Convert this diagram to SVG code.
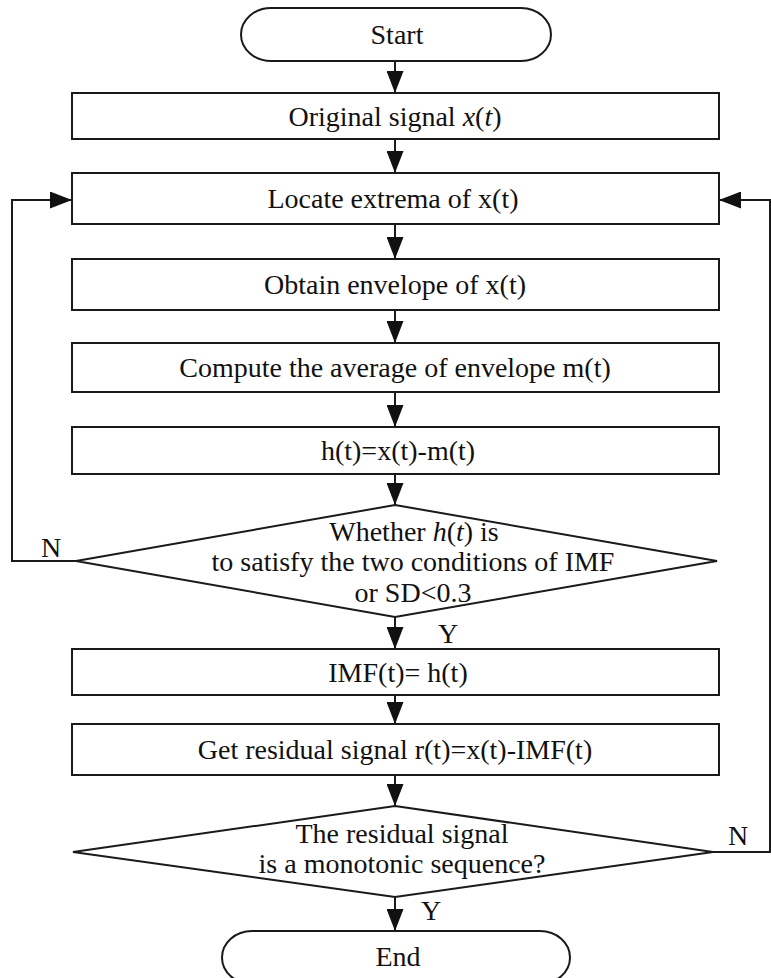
<svg xmlns="http://www.w3.org/2000/svg" width="771" height="978" viewBox="0 0 771 978">
<style>
.n{fill:#fff;stroke:#1a1a1a;stroke-width:2}
.t{font-family:"Liberation Serif","Times New Roman",serif;font-size:28px;fill:#111;text-anchor:middle}
.i{font-style:italic}
.c{fill:none;stroke:#1a1a1a;stroke-width:2}
</style>
<defs>
<marker id="ah" markerUnits="userSpaceOnUse" markerWidth="22" markerHeight="17" refX="22" refY="8.5" orient="auto">
<path d="M0,0 L22,8.5 L0,17 z" fill="#111"/>
</marker>
</defs>
<rect width="771" height="978" fill="#fff"/>
<g id="connectors">
<line class="c" x1="395" y1="61" x2="395" y2="93" marker-end="url(#ah)"/>
<line class="c" x1="395" y1="139" x2="395" y2="173" marker-end="url(#ah)"/>
<line class="c" x1="395" y1="224" x2="395" y2="259" marker-end="url(#ah)"/>
<line class="c" x1="395" y1="310" x2="395" y2="343" marker-end="url(#ah)"/>
<line class="c" x1="395" y1="392" x2="395" y2="427" marker-end="url(#ah)"/>
<line class="c" x1="395" y1="474" x2="395" y2="505" marker-end="url(#ah)"/>
<line class="c" x1="395" y1="617" x2="395" y2="649" marker-end="url(#ah)"/>
<line class="c" x1="395" y1="695" x2="395" y2="724" marker-end="url(#ah)"/>
<line class="c" x1="395" y1="775" x2="395" y2="806" marker-end="url(#ah)"/>
<line class="c" x1="395" y1="897" x2="395" y2="931" marker-end="url(#ah)"/>
<polyline class="c" points="76,561 12,561 12,200 72,200" marker-end="url(#ah)"/>
<polyline class="c" points="713,852 770,852 770,200 719,200" marker-end="url(#ah)"/>
<text class="t" x="51" y="557">N</text>
<text class="t" x="448" y="643">Y</text>
<text class="t" x="738" y="845">N</text>
<text class="t" x="431" y="920">Y</text>
</g>
<g id="start">
<rect class="n" x="241" y="8" width="310" height="53" rx="30" ry="26.5"/>
<text class="t" x="397" y="44">Start</text>
</g>
<g id="original">
<rect class="n" x="72" y="93" width="647" height="46"/>
<text class="t" x="395" y="126">Original signal <tspan class="i">x</tspan>(<tspan class="i">t</tspan>)</text>
</g>
<g id="locate">
<rect class="n" x="72" y="173" width="647" height="51"/>
<text class="t" x="393" y="208">Locate extrema of x(t)</text>
</g>
<g id="envelope">
<rect class="n" x="72" y="259" width="647" height="51"/>
<text class="t" x="395" y="294">Obtain envelope of x(t)</text>
</g>
<g id="average">
<rect class="n" x="72" y="343" width="647" height="49"/>
<text class="t" x="395" y="377">Compute the average of envelope m(t)</text>
</g>
<g id="ht">
<rect class="n" x="72" y="427" width="647" height="47"/>
<text class="t" x="398" y="460">h(t)=x(t)-m(t)</text>
</g>
<g id="imfcheck">
<polygon class="n" points="395,505 717,561 395,617 76,561"/>
<text class="t" x="414" y="541">Whether  <tspan class="i">h</tspan>(<tspan class="i">t</tspan>) is</text>
<text class="t" x="413" y="571">to satisfy the two conditions of IMF</text>
<text class="t" x="413" y="602">or SD&lt;0.3</text>
</g>
<g id="imf">
<rect class="n" x="72" y="649" width="647" height="46"/>
<text class="t" x="398" y="682">IMF(t)= h(t)</text>
</g>
<g id="residual">
<rect class="n" x="72" y="724" width="647" height="51"/>
<text class="t" x="395" y="759">Get residual signal r(t)=x(t)-IMF(t)</text>
</g>
<g id="monotonic">
<polygon class="n" points="395,806 713,852 395,897 73,852"/>
<text class="t" x="402" y="843">The residual signal</text>
<text class="t" x="402" y="873">is a monotonic sequence?</text>
</g>
<g id="end">
<rect class="n" x="222" y="931" width="348" height="53" rx="30" ry="26.5"/>
<text class="t" x="398" y="966">End</text>
</g>
</svg>
